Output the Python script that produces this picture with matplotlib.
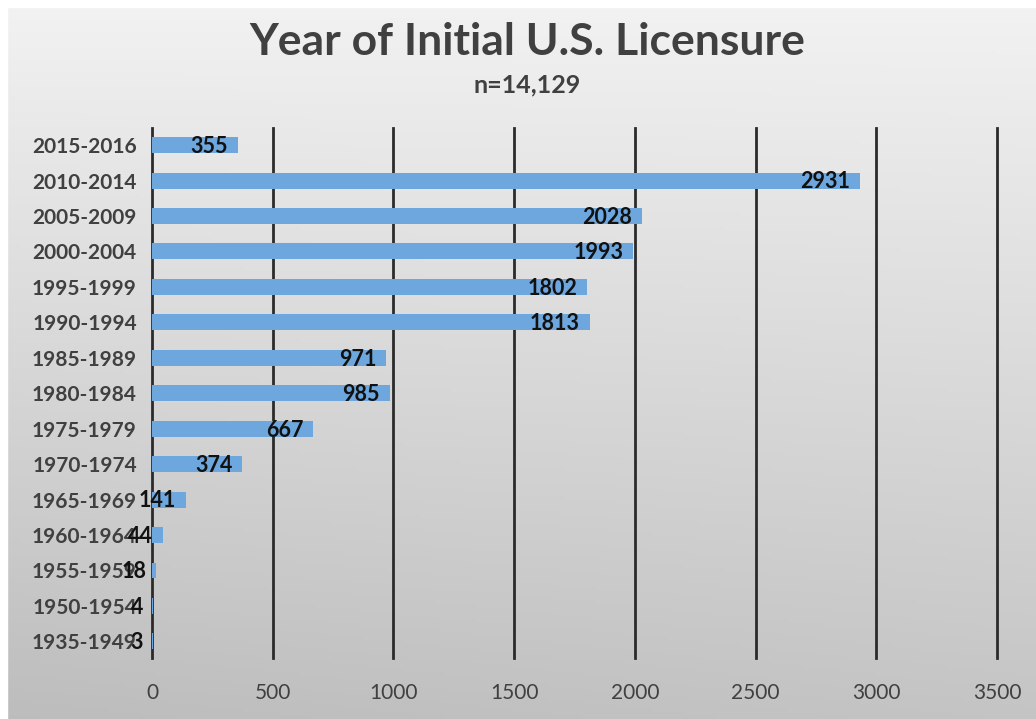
import matplotlib.pyplot as plt
import numpy as np

# data, top row first
periods = ['2015-2016', '2010-2014', '2005-2009', '2000-2004', '1995-1999',
           '1990-1994', '1985-1989', '1980-1984', '1975-1979', '1970-1974',
           '1965-1969', '1960-1964', '1955-1959', '1950-1954', '1935-1949']
counts = [355, 2931, 2028, 1993, 1802, 1813, 971, 985, 667, 374, 141, 44, 18, 4, 3]
xticks = [0, 500, 1000, 1500, 2000, 2500, 3000, 3500]

plt.rcParams['font.family'] = ['Lato', 'DejaVu Sans']

fig = plt.figure(figsize=(10.36, 7.19), dpi=100)

# grey gradient background
bg = fig.add_axes([0, 0, 1, 1], zorder=0)
yy, xx = np.mgrid[0:1:200j, 0:1:200j]
shade = 0.95 - 0.18 * yy - 0.03 * yy * (1 - xx)
bg.imshow(np.dstack([shade] * 3), extent=[0, 1, 0, 1], origin='upper', aspect='auto')
bg.axhspan(0.99, 1.0, color='white')
bg.axvspan(0, 0.007, color='white')
bg.set_xlim(0, 1)
bg.set_ylim(0, 1)
bg.axis('off')

ax = fig.add_axes([0.1467, 0.0848, 0.8157, 0.737], zorder=1)
ax.patch.set_alpha(0)
pos = np.arange(len(periods))
ax.barh(pos, counts, height=0.45, color='#6ea7dd', zorder=2)
ax.set_ylim(14.47, -0.48)
ax.set_xlim(0, 3500)
ax.set_xticks(xticks)
ax.set_yticks(pos)
ax.set_yticklabels(periods)
ax.grid(axis='x', color='#2b2b2b', linewidth=2, zorder=1)
for gl in ax.get_xgridlines():
    gl.set_clip_on(False)
ax.set_axisbelow(True)
for s in ax.spines.values():
    s.set_visible(False)
ax.tick_params(length=0, labelsize=15, labelcolor='#404040')
ax.tick_params(axis='x', pad=18)
ax.tick_params(axis='y', pad=11)
for lab in ax.get_yticklabels():
    lab.set_fontweight('bold')

for p, c in zip(pos, counts):
    ax.annotate(str(c), (c, p), xytext=(-7, -1), textcoords='offset points',
                ha='right', va='center', fontsize=15.5, fontweight='bold',
                color='#111111', zorder=3)

fig.text(0.509, 0.942, 'Year of Initial U.S. Licensure', ha='center', va='center',
         fontsize=32, fontweight='bold', color='#404040')
fig.text(0.509, 0.882, 'n=14,129', ha='center', va='center',
         fontsize=18, fontweight='bold', color='#404040')

fig.savefig('out.png', dpi=100)
